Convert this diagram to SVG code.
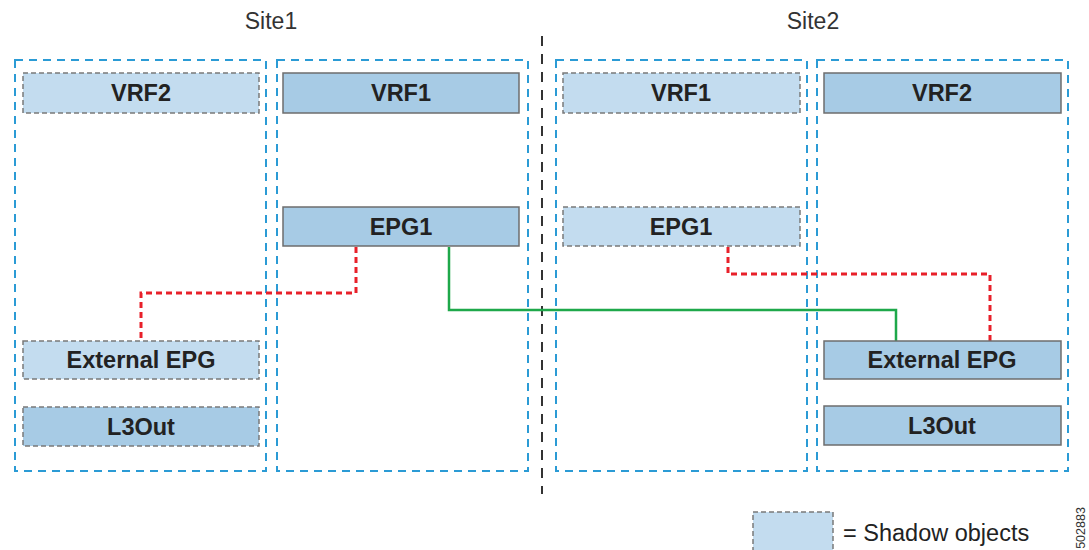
<svg xmlns="http://www.w3.org/2000/svg" width="1089" height="550" viewBox="0 0 1089 550">
<style>
.site{font-family:"Liberation Sans",Arial,sans-serif;font-size:23px;fill:#333;text-anchor:middle}
.cont{fill:none;stroke:#2b9bd5;stroke-width:2;stroke-dasharray:8,6}
.node{fill:#a7cbe5;stroke:#6d6d6d;stroke-width:1.5}
.shadow{fill:#c3dcef;stroke:#7a7a7a;stroke-width:1.5;stroke-dasharray:5,3}
.shadowd{fill:#a7cbe5;stroke:#7a7a7a;stroke-width:1.5;stroke-dasharray:5,3}
.lbl{font-family:"Liberation Sans",Arial,sans-serif;font-size:23.5px;font-weight:bold;fill:#222;text-anchor:middle}
.red{fill:none;stroke:#e8202a;stroke-width:3;stroke-dasharray:6,4}
.green{fill:none;stroke:#1ea84a;stroke-width:2.5}
</style>
<rect width="1089" height="550" fill="#fff"/>
<text class="site" x="271" y="29">Site1</text>
<text class="site" x="813" y="29">Site2</text>
<g id="containers">
<rect class="cont" x="15" y="60" width="251" height="411"/>
<rect class="cont" x="277" y="60" width="251" height="411"/>
<rect class="cont" x="556" y="60" width="251" height="411"/>
<rect class="cont" x="817" y="60" width="251" height="411"/>
</g>
<line x1="542" y1="36" x2="542" y2="494" stroke="#333" stroke-width="2" stroke-dasharray="10,8"/>
<g id="connectors">
<polyline class="red" points="356,247 356,293 141,293 141,341"/>
<polyline class="green" points="449,247 449,310 896,310 896,341"/>
<polyline class="red" points="728,247 728,274 990,274 990,341"/>
</g>
<g id="s1-vrf2"><rect class="shadow" x="23" y="73" width="236" height="40"/><text class="lbl" x="141" y="101">VRF2</text></g>
<g id="s1-vrf1"><rect class="node" x="283" y="73" width="236" height="40"/><text class="lbl" x="401" y="101">VRF1</text></g>
<g id="s2-vrf1"><rect class="shadow" x="563" y="73" width="237" height="40"/><text class="lbl" x="681" y="101">VRF1</text></g>
<g id="s2-vrf2"><rect class="node" x="824" y="73" width="237" height="40"/><text class="lbl" x="942" y="101">VRF2</text></g>
<g id="s1-epg1"><rect class="node" x="283" y="207" width="236" height="39"/><text class="lbl" x="401" y="235">EPG1</text></g>
<g id="s2-epg1"><rect class="shadow" x="563" y="207" width="237" height="39"/><text class="lbl" x="681" y="235">EPG1</text></g>
<g id="s1-extepg"><rect class="shadow" x="23" y="341" width="236" height="38"/><text class="lbl" x="141" y="368">External EPG</text></g>
<g id="s2-extepg"><rect class="node" x="824" y="341" width="237" height="38"/><text class="lbl" x="942" y="368">External EPG</text></g>
<g id="s1-l3out"><rect class="shadowd" x="23" y="407" width="236" height="39"/><text class="lbl" x="141" y="435">L3Out</text></g>
<g id="s2-l3out"><rect class="node" x="824" y="406" width="237" height="39"/><text class="lbl" x="942" y="434">L3Out</text></g>
<g id="legend">
<rect class="shadow" x="753" y="512" width="80" height="40"/>
<text x="843" y="541" font-family="Liberation Sans,Arial,sans-serif" font-size="23.5" fill="#222">= Shadow objects</text>
<text transform="translate(1085,528) rotate(-90)" text-anchor="middle" font-family="Liberation Sans,Arial,sans-serif" font-size="12.5" fill="#333">502883</text>
</g>
</svg>
